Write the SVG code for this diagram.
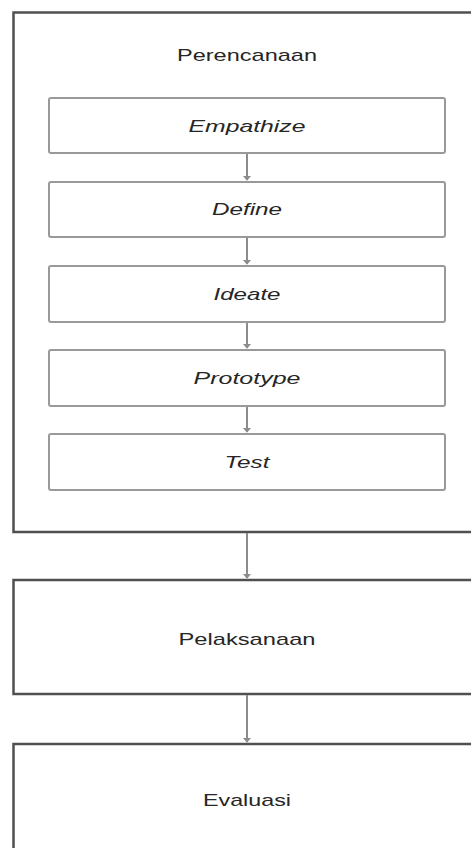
<svg xmlns="http://www.w3.org/2000/svg" width="471" height="848" viewBox="0 0 471 848">
  <style>
    .outer { fill: #ffffff; stroke: #505050; stroke-width: 2.5; }
    .inner { fill: #ffffff; stroke: #999999; stroke-width: 2; }
    .lbl { font-family: "Liberation Sans", Arial, sans-serif; font-size: 17px; fill: #262626; text-anchor: middle; }
    .it { font-style: italic; }
    .conn { stroke: #8c8c8c; stroke-width: 2; fill: none; }
  </style>
  <defs>
    <marker id="ah" viewBox="0 0 6 10" refX="5" refY="5" markerWidth="2.5" markerHeight="4" orient="auto" markerUnits="strokeWidth">
      <path d="M0,0 L6,5 L0,10 z" fill="#8c8c8c"/>
    </marker>
  </defs>
  <rect x="0" y="0" width="471" height="848" fill="#ffffff"/>

  <g id="perencanaan">
    <rect class="outer" x="13.5" y="12.5" width="470" height="519.5"/>
    <text class="lbl" x="247" y="61" textLength="140" lengthAdjust="spacingAndGlyphs">Perencanaan</text>
  </g>
  <g id="empathize">
    <rect class="inner" x="49" y="98" width="396" height="55" rx="2"/>
    <text class="lbl it" x="247" y="132" textLength="117" lengthAdjust="spacingAndGlyphs">Empathize</text>
  </g>
  <g id="define">
    <rect class="inner" x="49" y="182" width="396" height="55" rx="2"/>
    <text class="lbl it" x="247" y="215" textLength="70" lengthAdjust="spacingAndGlyphs">Define</text>
  </g>
  <g id="ideate">
    <rect class="inner" x="49" y="266" width="396" height="56" rx="2"/>
    <text class="lbl it" x="247" y="300" textLength="67" lengthAdjust="spacingAndGlyphs">Ideate</text>
  </g>
  <g id="prototype">
    <rect class="inner" x="49" y="350" width="396" height="56" rx="2"/>
    <text class="lbl it" x="247" y="384" textLength="107" lengthAdjust="spacingAndGlyphs">Prototype</text>
  </g>
  <g id="test">
    <rect class="inner" x="49" y="434" width="396" height="56" rx="2"/>
    <text class="lbl it" x="247" y="468" textLength="45" lengthAdjust="spacingAndGlyphs">Test</text>
  </g>
  <g id="pelaksanaan">
    <rect class="outer" x="13.5" y="580" width="470" height="114"/>
    <text class="lbl" x="247" y="645" textLength="137" lengthAdjust="spacingAndGlyphs">Pelaksanaan</text>
  </g>
  <g id="evaluasi">
    <rect class="outer" x="13.5" y="744" width="470" height="120"/>
    <text class="lbl" x="247" y="806" textLength="88" lengthAdjust="spacingAndGlyphs">Evaluasi</text>
  </g>

  <g id="connectors">
    <line class="conn" x1="247" y1="154" x2="247" y2="180" marker-end="url(#ah)"/>
    <line class="conn" x1="247" y1="238" x2="247" y2="264" marker-end="url(#ah)"/>
    <line class="conn" x1="247" y1="323" x2="247" y2="348" marker-end="url(#ah)"/>
    <line class="conn" x1="247" y1="407" x2="247" y2="432" marker-end="url(#ah)"/>
    <line class="conn" x1="247" y1="533" x2="247" y2="578" marker-end="url(#ah)"/>
    <line class="conn" x1="247" y1="695" x2="247" y2="742" marker-end="url(#ah)"/>
  </g>
</svg>
